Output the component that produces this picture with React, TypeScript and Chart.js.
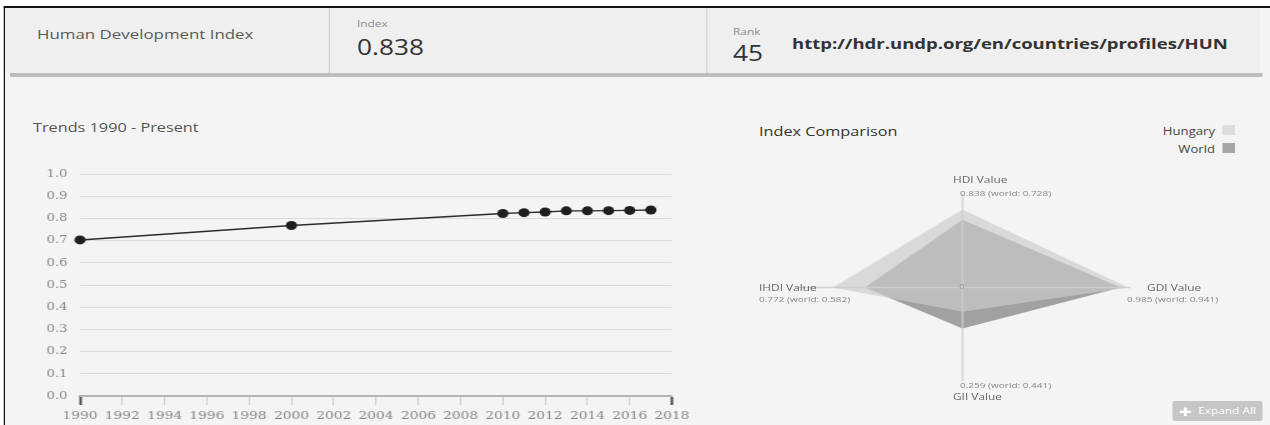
import React, { useEffect, useRef } from "react";
import Chart from "chart.js/auto";

// ---- Data ----
const years = [1990, 2000, 2010, 2011, 2012, 2013, 2014, 2015, 2016, 2017];
const hdiValues = [0.703, 0.768, 0.822, 0.826, 0.829, 0.834, 0.834, 0.835, 0.836, 0.838];
const xMinYear = 1990;
const xMaxYear = 2018;
const yearStep = 2;

const radarLabels = ["HDI Value", "GDI Value", "GII Value", "IHDI Value"];
const hungaryRadar = [0.838, 0.985, 0.259, 0.772];
const worldRadar = [0.728, 0.941, 0.441, 0.582];
const seriesNames = ["Hungary", "World"];

const headerTitle = "Human Development Index";
const indexValue = "0.838";
const rankValue = "45";
const profileUrl = "http://hdr.undp.org/en/countries/profiles/HUN";

// radar axis directions: up, right, down, left
const axisDirs = [
  [0, 1],
  [1, 0],
  [0, -1],
  [-1, 0],
];

const toPolygon = (vals: number[]) => {
  const pts = vals.map((v, i) => ({ x: axisDirs[i][0] * v, y: axisDirs[i][1] * v }));
  pts.push(pts[0]);
  return pts;
};

const SX = 1.25; // horizontal stretch of the reference picture
const W = 1016;

function Txt(props: any) {
  const { x, y, size, color, weight, family, right, children, extra } = props;
  const style: any = {
    position: "absolute",
    top: y,
    transform: "translateY(-50%)",
    fontSize: size,
    color: color || "#555",
    fontWeight: weight || 400,
    fontFamily: family || "'Open Sans', sans-serif",
    whiteSpace: "nowrap",
    lineHeight: 1,
    ...(extra || {}),
  };
  if (right) style.right = W - x;
  else style.left = x;
  return <div style={style}>{children}</div>;
}

function LineChart() {
  const ref = useRef<HTMLCanvasElement>(null);
  useEffect(() => {
    const edge = (c: any) => c.tick && (c.tick.value === xMinYear || c.tick.value === xMaxYear);
    const chart = new Chart(ref.current!, {
      type: "line",
      data: {
        datasets: [
          {
            data: years.map((yr, i) => ({ x: yr, y: hdiValues[i] })),
            borderColor: "#2b2b2b",
            borderWidth: 1.4,
            pointRadius: 4.5,
            pointHoverRadius: 4.5,
            pointBackgroundColor: "#1e1e1e",
            pointBorderWidth: 0,
            tension: 0,
            clip: false as any,
          },
        ],
      },
      options: {
        animation: false,
        responsive: false,
        events: [],
        layout: { padding: { top: 24, right: 20.4, left: 0, bottom: 0 } },
        plugins: { legend: { display: false }, tooltip: { enabled: false } },
        scales: {
          x: {
            type: "linear",
            min: xMinYear,
            max: xMaxYear,
            afterFit: (s: any) => {
              s.height = 29;
            },
            border: { display: true, color: "#b5b5b5", width: 2 },
            grid: {
              drawOnChartArea: false,
              drawTicks: true,
              tickLength: 9,
              tickColor: (c: any) => (edge(c) ? "#4a4a4a" : "#cdcdcd"),
              tickWidth: (c: any) => (edge(c) ? 2 : 1),
            } as any,
            ticks: {
              stepSize: yearStep,
              autoSkip: false,
              maxRotation: 0,
              padding: 5,
              color: "#858585",
              font: { family: "'DejaVu Serif', serif", size: 11 },
              callback: (v: any) => String(v),
            },
          },
          y: {
            min: 0,
            max: 1,
            afterFit: (s: any) => {
              s.width = 54;
            },
            border: { display: false },
            grid: {
              drawTicks: false,
              color: (c: any) => (c.tick && c.tick.value === 0 ? "rgba(0,0,0,0)" : "#dadada"),
              lineWidth: 1,
            },
            ticks: {
              stepSize: 0.1,
              padding: 10,
              color: "#858585",
              font: { family: "'DejaVu Serif', serif", size: 10.5 },
              callback: (v: any) => Number(v).toFixed(1),
            },
          },
        },
      },
    });
    return () => chart.destroy();
  }, []);
  return (
    <canvas
      ref={ref}
      width={548}
      height={275}
      style={{ position: "absolute", left: 10, top: 150, width: 548, height: 275 }}
    />
  );
}

function RadarChart() {
  const ref = useRef<HTMLCanvasElement>(null);
  useEffect(() => {
    const spokes = {
      id: "spokes",
      afterDatasetsDraw(chart: any) {
        const xs = chart.scales.x;
        const ys = chart.scales.y;
        const ctx = chart.ctx;
        const cx = xs.getPixelForValue(0);
        const cy = ys.getPixelForValue(0);
        ctx.save();
        ctx.strokeStyle = "rgba(205,205,205,0.9)";
        ctx.lineWidth = 1.4;
        axisDirs.forEach((d) => {
          ctx.beginPath();
          ctx.moveTo(cx, cy);
          ctx.lineTo(xs.getPixelForValue(d[0]), ys.getPixelForValue(d[1]));
          ctx.stroke();
        });
        ctx.restore();
      },
    };
    const chart = new Chart(ref.current!, {
      type: "line",
      data: {
        datasets: [
          {
            label: seriesNames[0],
            data: toPolygon(hungaryRadar),
            backgroundColor: "rgba(204,204,204,0.66)",
            borderColor: "rgba(0,0,0,0)",
            borderWidth: 0,
            pointRadius: 0,
            fill: "shape" as any,
            tension: 0,
            clip: false as any,
          },
          {
            label: seriesNames[1],
            data: toPolygon(worldRadar),
            backgroundColor: "#a1a1a1",
            borderColor: "rgba(0,0,0,0)",
            borderWidth: 0,
            pointRadius: 0,
            fill: "shape" as any,
            tension: 0,
            clip: false as any,
          },
        ],
      },
      options: {
        animation: false,
        responsive: false,
        events: [],
        layout: { padding: 0 },
        plugins: { legend: { display: false }, tooltip: { enabled: false } },
        scales: {
          x: { type: "linear", min: -1.25, max: 1.25, display: false },
          y: { type: "linear", min: -1.1, max: 1.1, display: false },
        },
      },
      plugins: [spokes],
    });
    return () => chart.destroy();
  }, []);
  return (
    <canvas
      ref={ref}
      width={336}
      height={205}
      style={{ position: "absolute", left: 601.6, top: 184.5, width: 336, height: 205 }}
    />
  );
}

export default function App() {
  const valueText = (i: number) => `${hungaryRadar[i].toFixed(3)} (world: ${worldRadar[i].toFixed(3)})`;
  return (
    <div
      style={{
        position: "fixed",
        left: 0,
        top: 0,
        width: W,
        height: 425,
        transform: `scaleX(${SX})`,
        transformOrigin: "0 0",
        background: "#ffffff",
        overflow: "hidden",
        fontFamily: "'Open Sans', sans-serif",
      }}
    >
      {/* frame */}
      <div
        style={{
          position: "absolute",
          left: 3.4,
          top: 6,
          width: 1100,
          height: 500,
          borderTop: "2px solid #141414",
          borderLeft: "1.7px solid #141414",
          background: "#f4f4f4",
        }}
      />
      {/* header */}
      <div style={{ position: "absolute", left: 5.2, top: 8, width: 1003, height: 65, background: "#efefef" }} />
      <div style={{ position: "absolute", left: 8, top: 73, width: 1002, height: 3.5, background: "#bdbdbd" }} />
      <div style={{ position: "absolute", left: 263, top: 8, width: 1, height: 65, background: "#d2d2d2" }} />
      <div style={{ position: "absolute", left: 564.8, top: 8, width: 1, height: 65, background: "#d2d2d2" }} />

      <Txt x={29.6} y={35} size={13.5} color="#5a5a5a">{headerTitle}</Txt>
      <Txt x={285.6} y={24} size={9.5} color="#8a8a8a">Index</Txt>
      <Txt x={285.6} y={47} size={21} color="#333">{indexValue}</Txt>
      <Txt x={586.4} y={32} size={9.5} color="#8a8a8a">Rank</Txt>
      <Txt x={586.4} y={52.5} size={21} color="#333">{rankValue}</Txt>
      <Txt x={633.6} y={43} size={14.8} weight={700} color="#333">{profileUrl}</Txt>

      {/* line chart */}
      <Txt x={26.4} y={127} size={13} color="#555">Trends 1990 - Present</Txt>
      <LineChart />

      {/* radar */}
      <Txt x={607.2} y={131} size={13} color="#333">Index Comparison</Txt>
      <Txt x={972} y={131} size={10.5} weight={500} color="#444" right>{seriesNames[0]}</Txt>
      <Txt x={972} y={149} size={10.5} weight={500} color="#444" right>{seriesNames[1]}</Txt>
      <div style={{ position: "absolute", left: 977.6, top: 125, width: 10.4, height: 10, background: "#dcdcdc" }} />
      <div style={{ position: "absolute", left: 977.6, top: 143, width: 10.4, height: 10, background: "#a6a6a6" }} />

      <RadarChart />
      <Txt x={767.4} y={287} size={7.5} color="#999">0</Txt>

      <Txt x={762.4} y={180} size={9.5} color="#666">{radarLabels[0]}</Txt>
      <Txt x={768} y={193} size={8} color="#888">{valueText(0)}</Txt>

      <Txt x={917.6} y={288} size={9.5} color="#666">{radarLabels[1]}</Txt>
      <Txt x={901.6} y={299} size={8} color="#888">{valueText(1)}</Txt>

      <Txt x={768} y={385} size={8} color="#888">{valueText(2)}</Txt>
      <Txt x={762.4} y={397} size={9.5} color="#666">{radarLabels[2]}</Txt>

      <Txt x={607.2} y={288} size={9.5} color="#666">{radarLabels[3]}</Txt>
      <Txt x={607.2} y={299} size={8} color="#888">{valueText(3)}</Txt>

      {/* Expand All button */}
      <div
        style={{
          position: "absolute",
          left: 938.4,
          top: 401,
          width: 72,
          height: 20,
          background: "#c6c6c6",
          borderRadius: 2,
        }}
      />
      <Txt x={943} y={410.5} size={18} weight={800} color="#ffffff">+</Txt>
      <Txt x={958.5} y={411} size={9.5} color="#ffffff">Expand All</Txt>
    </div>
  );
}
